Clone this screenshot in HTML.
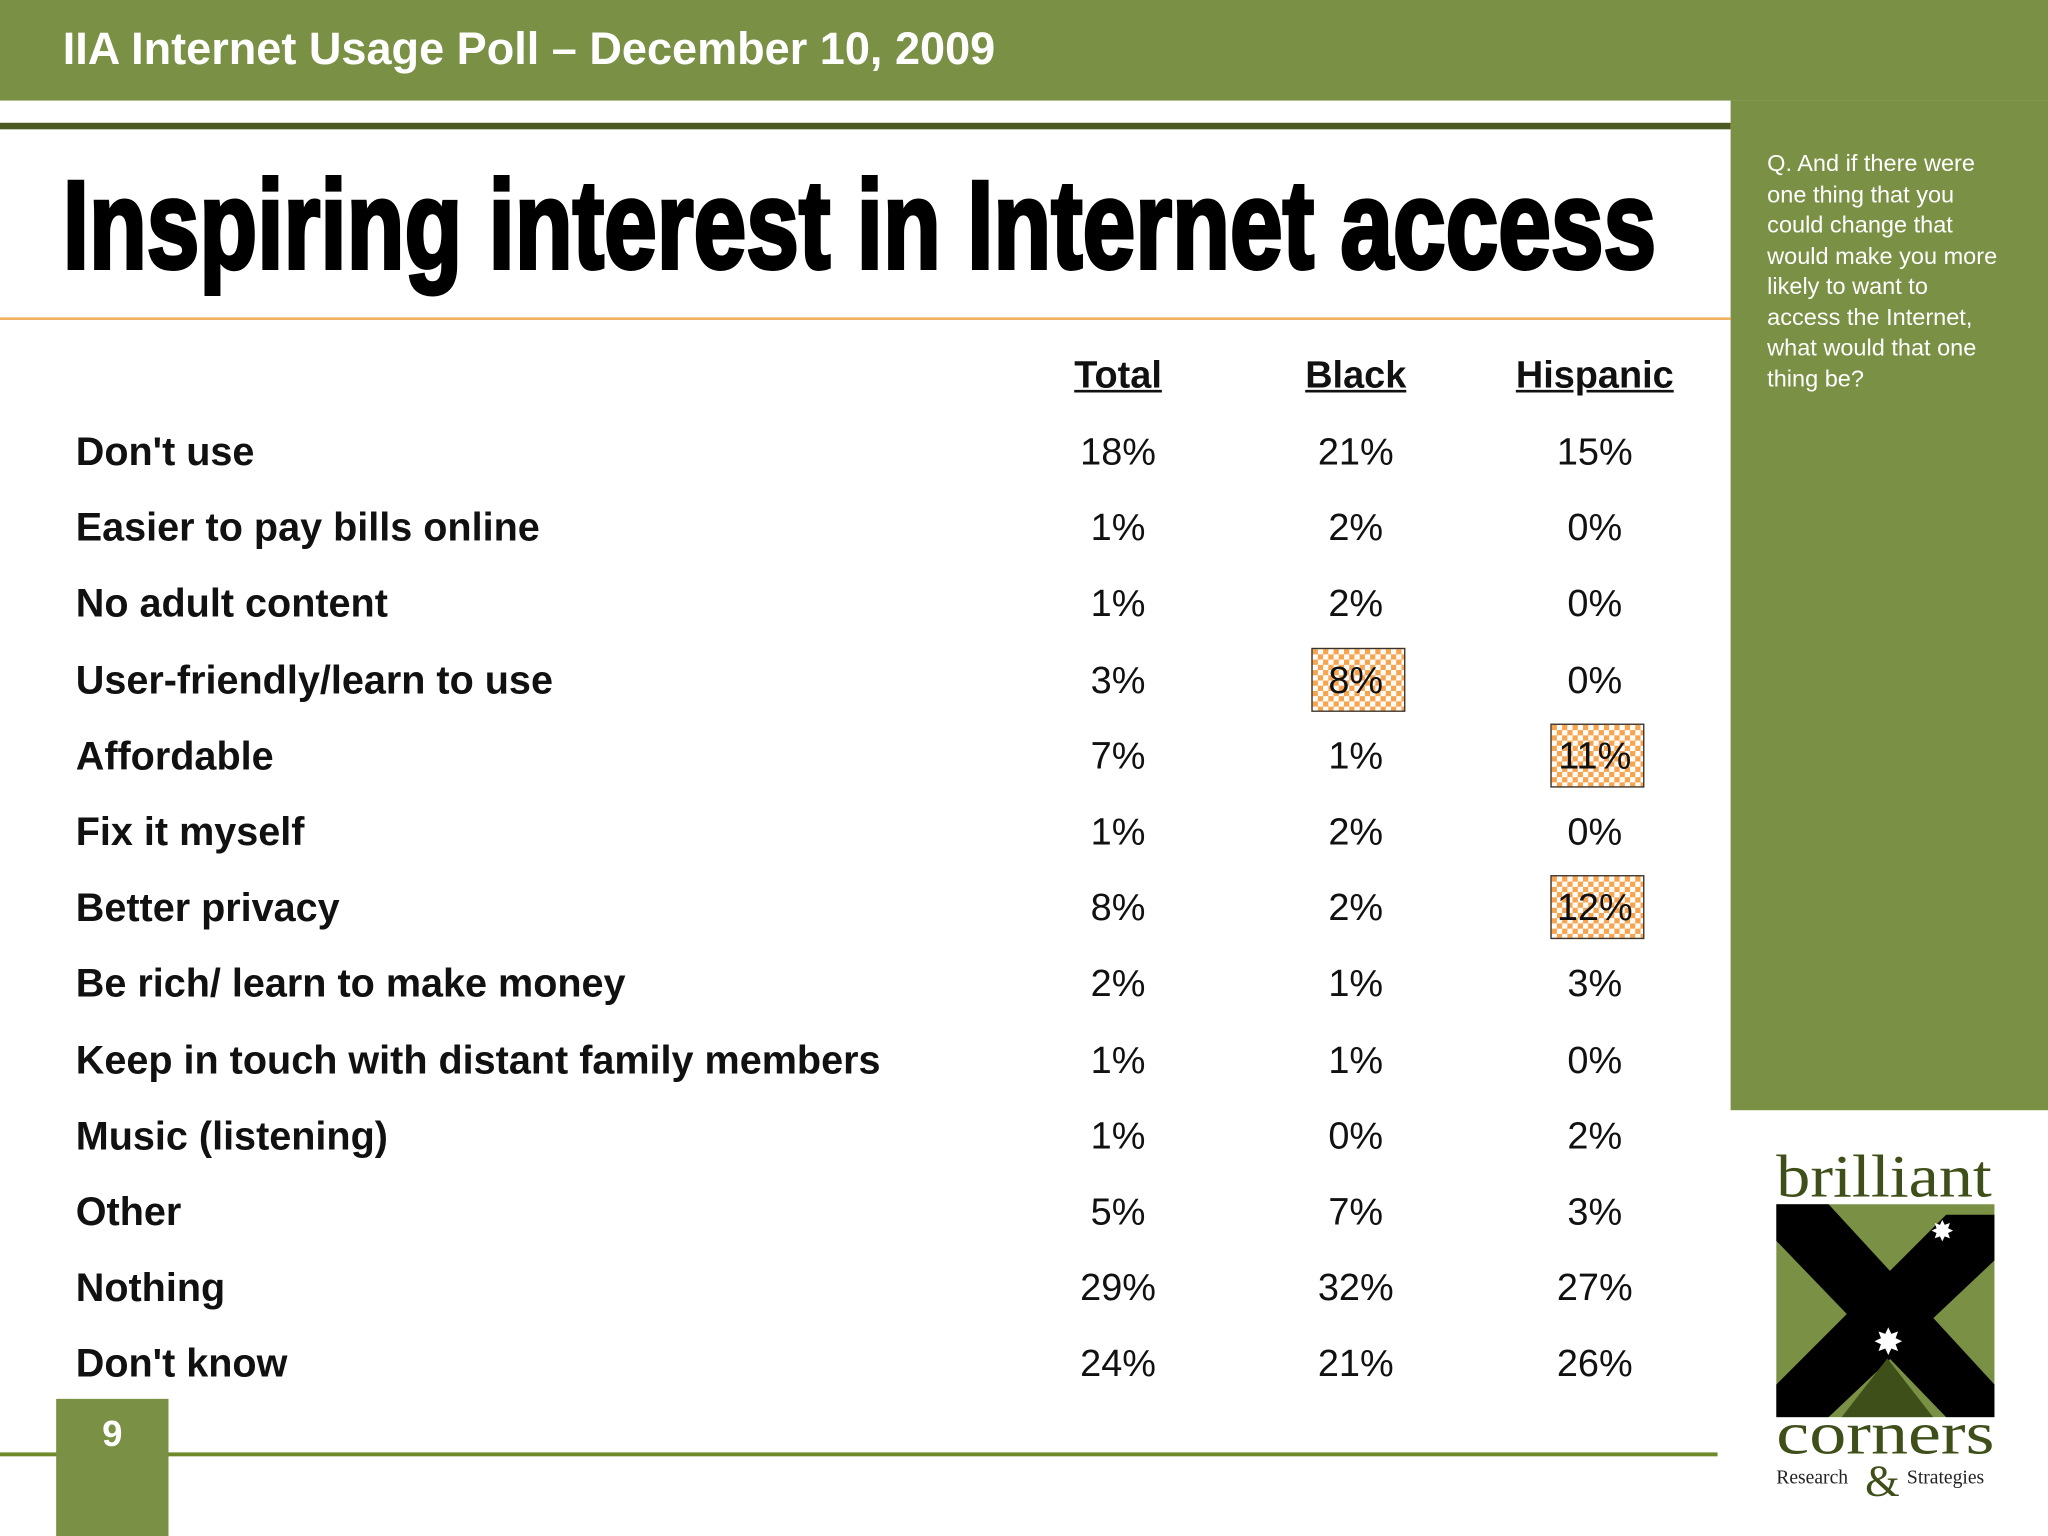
<!DOCTYPE html>
<html><head><meta charset="utf-8"><style>
html,body{margin:0;padding:0;background:#fff}
body{width:2048px;height:1536px;overflow:hidden;position:relative}
#s{position:absolute;left:0;top:0;width:1568px;height:1176px;transform:scale(1.306122);transform-origin:0 0;font-family:"Liberation Sans",Arial,sans-serif}
.a{position:absolute}
.lbl{position:absolute;left:58px;font-weight:bold;font-size:30.3px;color:#111;transform:translateY(-50%);white-space:nowrap}
.val{position:absolute;width:120px;margin-left:-60px;text-align:center;font-size:29px;color:#111;transform:translateY(-50%)}
.hdr{position:absolute;width:200px;margin-left:-100px;text-align:center;font-weight:bold;font-size:29px;text-decoration:underline;color:#111;transform:translateY(-50%)}
.hl{position:absolute;border:1.5px solid #333;background-color:#f6a44e;background-image:linear-gradient(45deg,#fff 25%,transparent 25%,transparent 75%,#fff 75%),linear-gradient(45deg,#fff 25%,transparent 25%,transparent 75%,#fff 75%);background-size:8px 8px;background-position:0 0,4px 4px}
</style></head><body>
<div id="s">
<div class="a" style="left:0;top:0;width:1568px;height:77px;background:#7a9045"></div>
<div class="a" style="left:48px;top:19px;color:#fff;font-weight:bold;font-size:34.5px;white-space:nowrap">IIA Internet Usage Poll – December 10, 2009</div>
<div class="a" style="left:0;top:94px;width:1325px;height:5px;background:#4a5a20"></div>
<div class="a" style="left:1325px;top:77px;width:243px;height:773px;background:#7a9045"></div>
<div class="a" style="left:1353px;top:114px;width:184px;color:#fff;font-size:18px;line-height:23.5px">Q. And if there were one thing that you could change that would make you more likely to want to access the Internet, what would that one thing be?</div>
<div class="a" style="left:48px;top:118px;font-family:'Liberation Sans Narrow','Liberation Sans',sans-serif;font-weight:bold;font-size:96px;color:#000;white-space:nowrap;transform-origin:0 0;-webkit-text-stroke:3px #000" id="ttl">Inspiring interest in Internet access</div>
<div class="a" style="left:0;top:243px;width:1325px;height:2px;background:#f0b060"></div>
<div id="tbl"></div>
<div class="a" style="left:0;top:1112px;width:1315px;height:3px;background:#6f8a2a"></div>
<div class="a" style="left:43px;top:1071px;width:86px;height:105px;background:#7a9045"></div>
<div class="a" style="left:43px;top:1082px;width:86px;text-align:center;color:#fff;font-weight:bold;font-size:28px">9</div>
<svg class="a" style="left:1350px;top:870px" width="190" height="290" viewBox="0 0 190 290">
<text x="10" y="46" textLength="165" lengthAdjust="spacingAndGlyphs" font-family="Liberation Serif,serif" font-size="46" fill="#3f4f1a">brilliant</text>
<rect x="10" y="52" width="167" height="163" fill="#7a9045"/>
<polygon points="10,52 50,52 177,190 177,215 140,215 10,80" fill="#000"/>
<polygon points="177,60 177,95 50,215 10,215 10,190 140,60" fill="#000"/>
<polygon points="60,215 95,170 130,215" fill="#3f4f1a"/>
<text x="128" y="80" font-size="22" fill="#fff">✸</text>
<text x="84" y="167" font-size="28" fill="#fff">✸</text>
<text x="10" y="243" textLength="167" lengthAdjust="spacingAndGlyphs" font-family="Liberation Serif,serif" font-size="46" fill="#3f4f1a">corners</text>
<text x="10" y="266" font-family="Liberation Serif,serif" font-size="15" fill="#222">Research</text>
<text x="78" y="275" font-family="Liberation Serif,serif" font-size="34" fill="#3f4f1a">&amp;</text>
<text x="110" y="266" font-family="Liberation Serif,serif" font-size="15" fill="#222">Strategies</text>
</svg>
</div>
<script>
const columns=["Total","Black","Hispanic"];
const categories=["Don't use","Easier to pay bills online","No adult content","User-friendly/learn to use","Affordable","Fix it myself","Better privacy","Be rich/ learn to make money","Keep in touch with distant family members","Music (listening)","Other","Nothing","Don't know"];
const totalVals=[18,1,1,3,7,1,8,2,1,1,5,29,24];
const blackVals=[21,2,2,8,1,2,2,1,1,0,7,32,21];
const hispanicVals=[15,0,0,0,11,0,12,3,0,2,3,27,26];
const highlights=[[3,1],[4,2],[6,2]];
const series=[totalVals,blackVals,hispanicVals];
const colX=[856,1038,1221];
const rowY=i=>347+i*58.2;
const t=document.getElementById('tbl');
columns.forEach((c,j)=>{const d=document.createElement('div');d.className='hdr';


d.style.left=colX[j]+'px';d.style.top='288px';d.textContent=c;t.appendChild(d);});
highlights.forEach(([r,c])=>{const h=document.createElement('div');h.className='hl';


h.style.left=(colX[c]-34)+'px';h.style.top=(rowY(r)-26)+'px';h.style.width='70px';h.style.height='47px';t.appendChild(h);});
categories.forEach((cat,i)=>{const l=document.createElement('div');l.className='lbl';


l.style.top=rowY(i)+'px';l.textContent=cat;t.appendChild(l);
series.forEach((s,j)=>{const v=document.createElement('div');v.className='val';


v.style.left=colX[j]+'px';v.style.top=rowY(i)+'px';v.textContent=s[i]+'%';t.appendChild(v);});});
const ttl=document.getElementById('ttl');const w=ttl.getBoundingClientRect().width/1.306122;
ttl.style.transform='scaleX('+(1220/w)+')';
</script>
</body></html>
